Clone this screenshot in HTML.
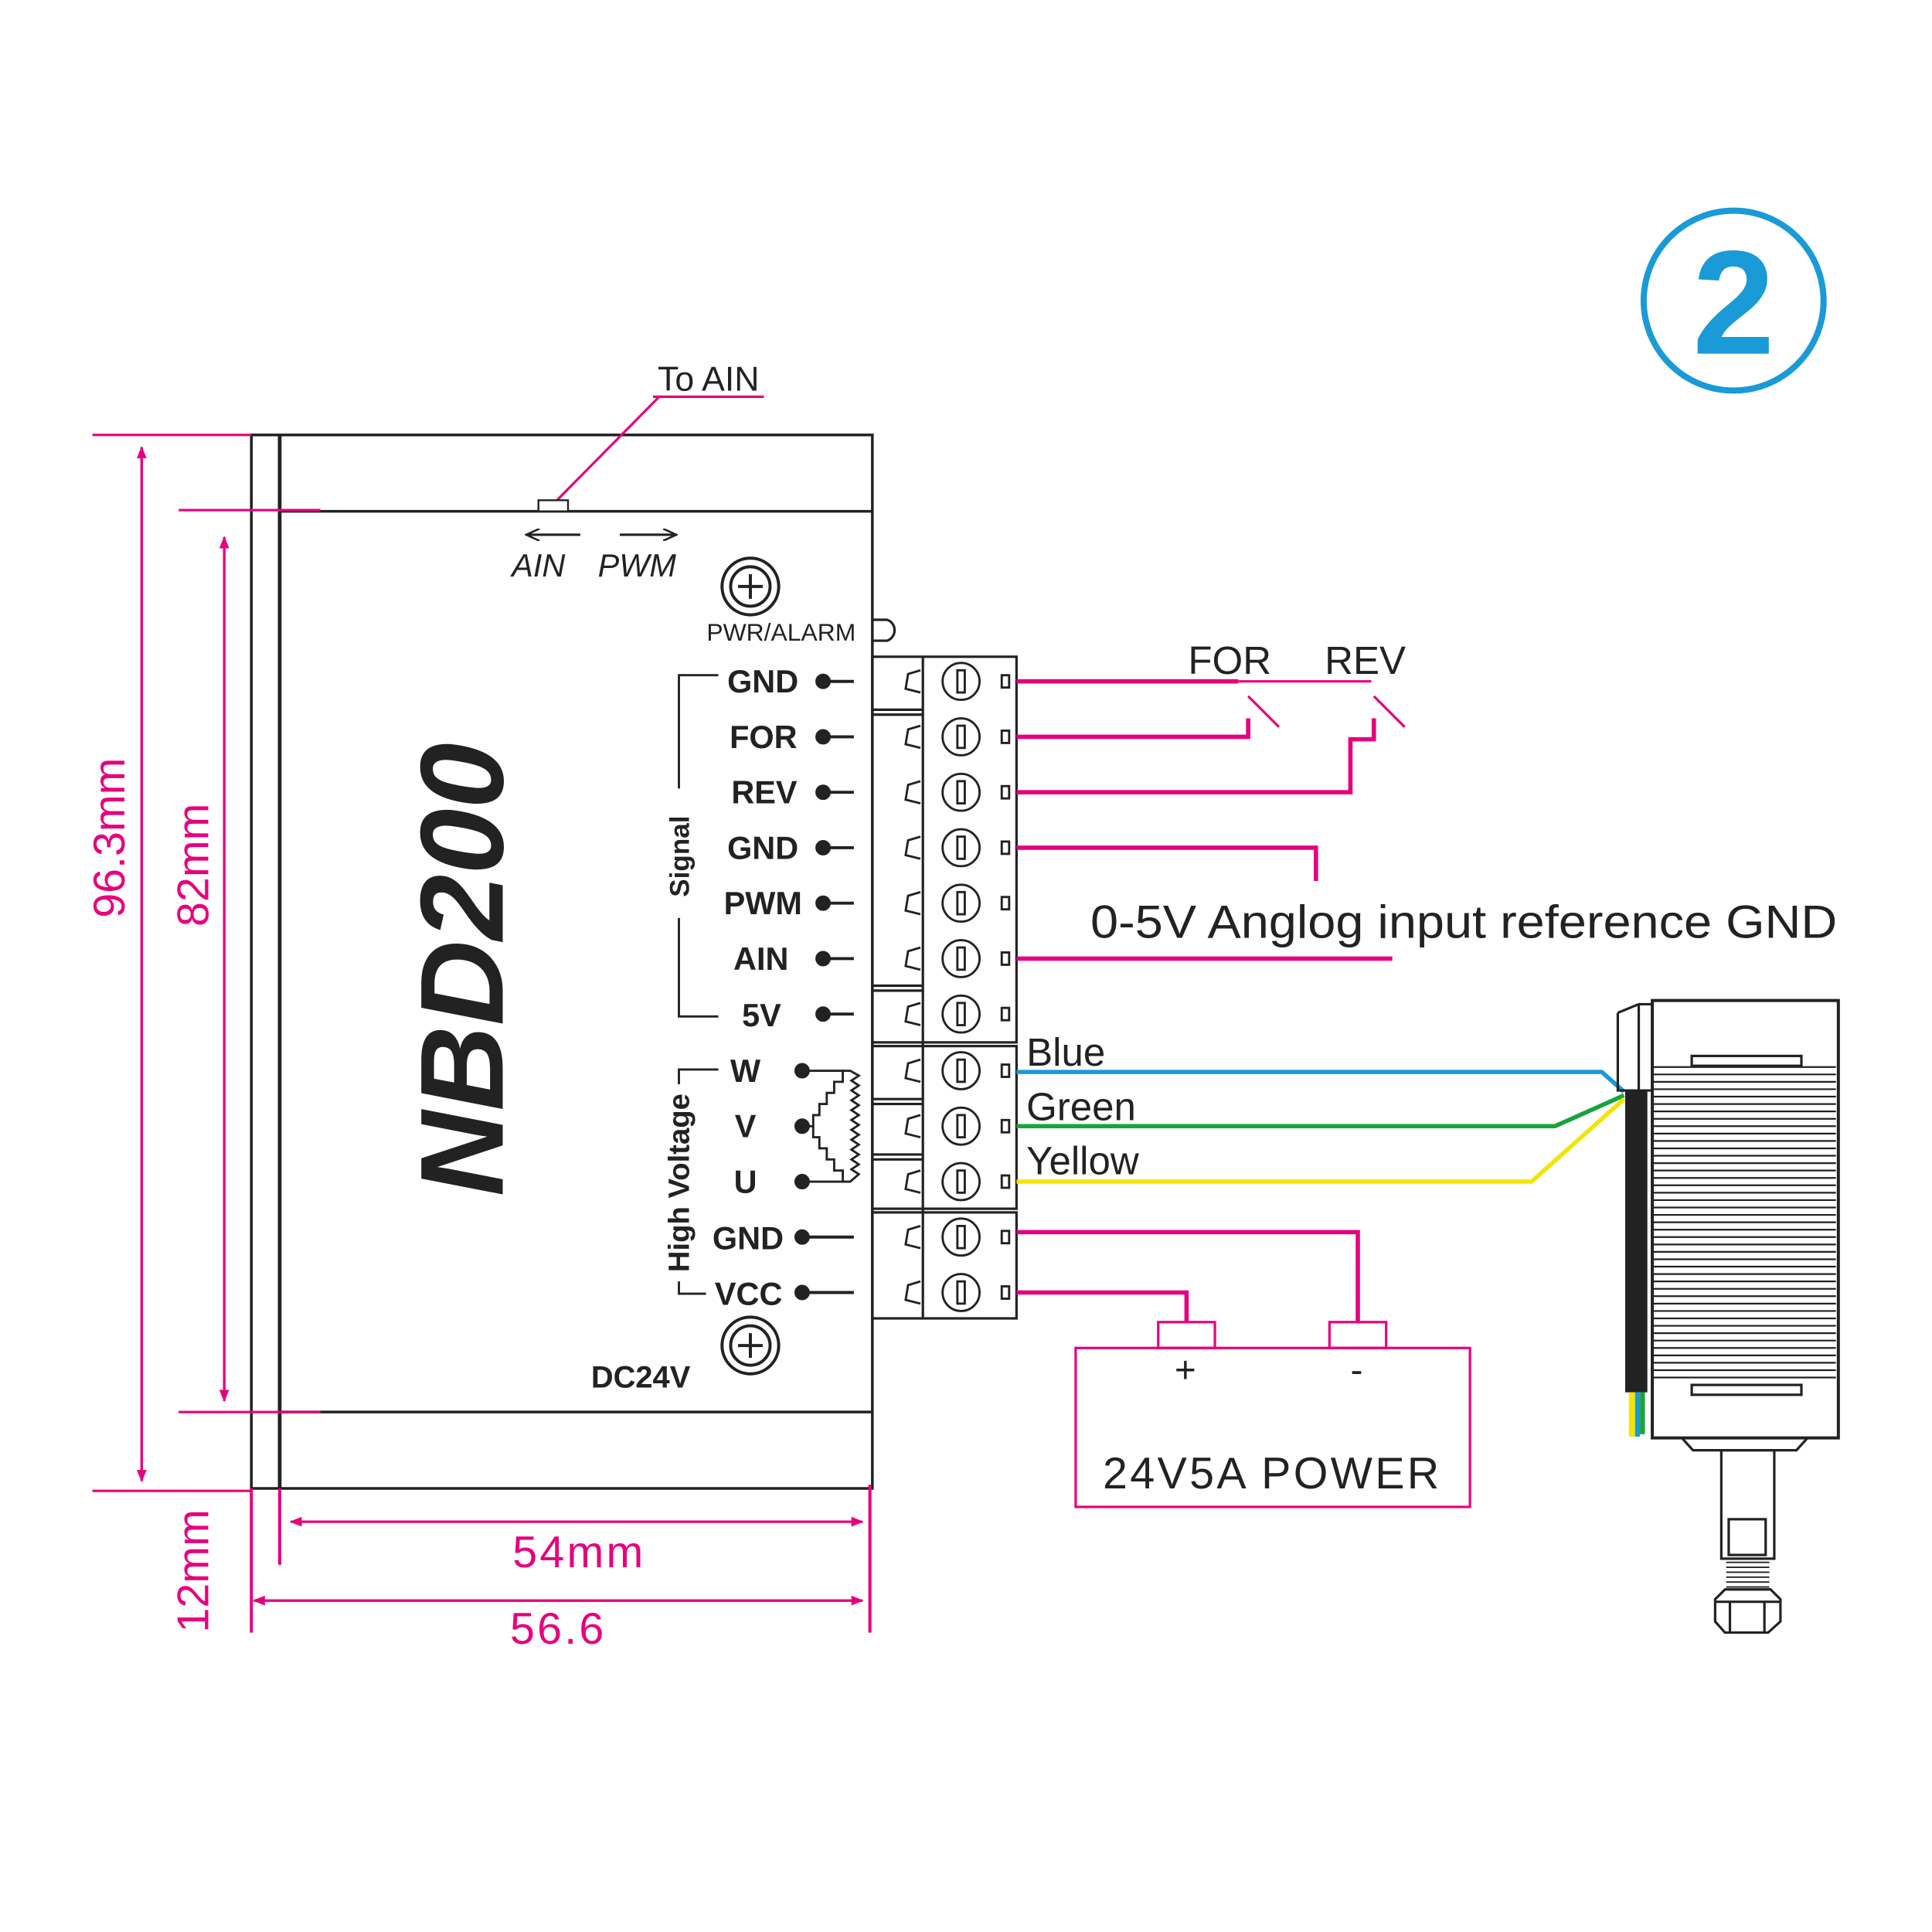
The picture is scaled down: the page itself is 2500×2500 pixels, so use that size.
<!DOCTYPE html>
<html><head><meta charset="utf-8"><style>html,body{margin:0;padding:0;background:#fff}svg{display:block}</style></head>
<body>
<svg width="2500" height="2500" viewBox="0 0 1568 1568" xmlns="http://www.w3.org/2000/svg" font-family="Liberation Sans, Arial, sans-serif">
<rect width="1568" height="1568" fill="#fff"/>
<defs>
<marker id="ah" markerWidth="10" markerHeight="10" refX="9" refY="5" orient="auto" markerUnits="userSpaceOnUse"><path d="M0,1 L10,5 L0,9 Z" fill="#e6007e"/></marker>
<marker id="ak" markerWidth="12" markerHeight="10" refX="11" refY="5" orient="auto" markerUnits="userSpaceOnUse"><path d="M0,0 L11,5 L0,10" fill="none" stroke="#222" stroke-width="1.6"/></marker>
</defs>
<circle cx="1407" cy="244" r="73" fill="none" stroke="#1a9ad6" stroke-width="5"/>
<text x="1407" y="287" text-anchor="middle" font-size="120" font-weight="bold" fill="#1a9ad6">2</text>

<g stroke="#222" fill="none" stroke-width="2.2">
<rect x="204" y="353" width="504" height="855"/>
<line x1="227" y1="353" x2="227" y2="1208" stroke-width="3"/>
<line x1="227" y1="415" x2="708" y2="415"/>
<line x1="227" y1="1146" x2="708" y2="1146"/>
</g>
<g stroke="#e6007e" stroke-width="2" fill="none">
<line x1="75" y1="353" x2="204" y2="353"/>
<line x1="75" y1="1210" x2="204" y2="1210"/>
<line x1="145" y1="414" x2="260" y2="414"/>
<line x1="145" y1="1146" x2="260" y2="1146"/>
<line x1="115" y1="1200" x2="115" y2="363" marker-end="url(#ah)"/>
<line x1="115" y1="363" x2="115" y2="1202" marker-end="url(#ah)"/>
<line x1="182" y1="1135" x2="182" y2="436" marker-end="url(#ah)"/>
<line x1="182" y1="436" x2="182" y2="1137" marker-end="url(#ah)"/>
<line x1="227" y1="1208" x2="227" y2="1270" stroke-width="2.5"/>
<line x1="706" y1="1205" x2="706" y2="1325" stroke-width="2.5"/>
<line x1="204" y1="1208" x2="204" y2="1325" stroke-width="2.5"/>
<line x1="238" y1="1235" x2="700" y2="1235" marker-end="url(#ah)"/>
<line x1="700" y1="1235" x2="236" y2="1235" marker-end="url(#ah)"/>
<line x1="208" y1="1299" x2="700" y2="1299" marker-end="url(#ah)"/>
<line x1="700" y1="1299" x2="206" y2="1299" marker-end="url(#ah)"/>
<line x1="530" y1="322" x2="620" y2="322"/>
<line x1="535" y1="322" x2="452" y2="406"/>
</g>
<g fill="#e6007e" font-size="36">
<text transform="translate(101,680) rotate(-90)" text-anchor="middle">96.3mm</text>
<text transform="translate(169,702) rotate(-90)" text-anchor="middle">82mm</text>
<text transform="translate(169,1275) rotate(-90)" text-anchor="middle">12mm</text>
<text x="470" y="1272" text-anchor="middle" letter-spacing="2">54mm</text>
<text x="453" y="1334" text-anchor="middle" letter-spacing="2">56.6</text>
</g>
<text x="575" y="317" text-anchor="middle" font-size="28" fill="#222">To AIN</text>
<rect x="437" y="406" width="24" height="9" fill="#fff" stroke="#222" stroke-width="1.5"/>
<line x1="471" y1="434" x2="427" y2="434" stroke="#222" stroke-width="2" marker-end="url(#ak)"/>
<line x1="503" y1="434" x2="549" y2="434" stroke="#222" stroke-width="2" marker-end="url(#ak)"/>
<text x="437" y="468" text-anchor="middle" font-size="26" font-style="italic" fill="#222">AIN</text>
<text x="517" y="468" text-anchor="middle" font-size="26" font-style="italic" fill="#222">PWM</text>
<g stroke="#222" fill="none" stroke-width="2.5">
<circle cx="609" cy="476" r="23"/><circle cx="609" cy="476" r="16"/>
<line x1="599" y1="476" x2="619" y2="476"/><line x1="609" y1="466" x2="609" y2="486"/>
<circle cx="609" cy="1092" r="23"/><circle cx="609" cy="1092" r="16"/>
<line x1="599" y1="1092" x2="619" y2="1092"/><line x1="609" y1="1082" x2="609" y2="1102"/>
<path d="M708,503 L720,503 A9,9 0 0 1 720,520 L708,520" stroke-width="2"/>
</g>
<text x="634" y="520" text-anchor="middle" font-size="20" fill="#222">PWR/ALARM</text>
<text x="520" y="1126" text-anchor="middle" font-size="25" font-weight="bold" fill="#222">DC24V</text>
<text transform="translate(408,787) rotate(-90)" text-anchor="middle" font-size="96" font-weight="bold" font-style="italic" fill="#222">NBD200</text>

<g stroke="#222" fill="none" stroke-width="2">
<rect x="708" y="533" width="117" height="313"/>
<rect x="708" y="849" width="117" height="132"/>
<rect x="708" y="984" width="117" height="86"/>
<line x1="749" y1="533" x2="749" y2="1070"/>
<line x1="708" y1="576" x2="749" y2="576"/><line x1="708" y1="580" x2="749" y2="580"/>
<line x1="708" y1="800" x2="749" y2="800"/><line x1="708" y1="804" x2="749" y2="804"/>
<line x1="708" y1="892" x2="749" y2="892"/><line x1="708" y1="896" x2="749" y2="896"/>
<line x1="708" y1="937" x2="749" y2="937"/><line x1="708" y1="941" x2="749" y2="941"/>
</g>
<g stroke="#222" fill="none" stroke-width="1.8">
<g transform="translate(0,553)"><path d="M747,-9 L737,-6 L735,6 L747,9"/><circle cx="780" cy="0" r="15"/><rect x="777" y="-9" width="6" height="18"/><rect x="813" y="-5" width="6" height="10"/></g>
<g transform="translate(0,598)"><path d="M747,-9 L737,-6 L735,6 L747,9"/><circle cx="780" cy="0" r="15"/><rect x="777" y="-9" width="6" height="18"/><rect x="813" y="-5" width="6" height="10"/></g>
<g transform="translate(0,643)"><path d="M747,-9 L737,-6 L735,6 L747,9"/><circle cx="780" cy="0" r="15"/><rect x="777" y="-9" width="6" height="18"/><rect x="813" y="-5" width="6" height="10"/></g>
<g transform="translate(0,688)"><path d="M747,-9 L737,-6 L735,6 L747,9"/><circle cx="780" cy="0" r="15"/><rect x="777" y="-9" width="6" height="18"/><rect x="813" y="-5" width="6" height="10"/></g>
<g transform="translate(0,733)"><path d="M747,-9 L737,-6 L735,6 L747,9"/><circle cx="780" cy="0" r="15"/><rect x="777" y="-9" width="6" height="18"/><rect x="813" y="-5" width="6" height="10"/></g>
<g transform="translate(0,778)"><path d="M747,-9 L737,-6 L735,6 L747,9"/><circle cx="780" cy="0" r="15"/><rect x="777" y="-9" width="6" height="18"/><rect x="813" y="-5" width="6" height="10"/></g>
<g transform="translate(0,823)"><path d="M747,-9 L737,-6 L735,6 L747,9"/><circle cx="780" cy="0" r="15"/><rect x="777" y="-9" width="6" height="18"/><rect x="813" y="-5" width="6" height="10"/></g>
<g transform="translate(0,869)"><path d="M747,-9 L737,-6 L735,6 L747,9"/><circle cx="780" cy="0" r="15"/><rect x="777" y="-9" width="6" height="18"/><rect x="813" y="-5" width="6" height="10"/></g>
<g transform="translate(0,914)"><path d="M747,-9 L737,-6 L735,6 L747,9"/><circle cx="780" cy="0" r="15"/><rect x="777" y="-9" width="6" height="18"/><rect x="813" y="-5" width="6" height="10"/></g>
<g transform="translate(0,959)"><path d="M747,-9 L737,-6 L735,6 L747,9"/><circle cx="780" cy="0" r="15"/><rect x="777" y="-9" width="6" height="18"/><rect x="813" y="-5" width="6" height="10"/></g>
<g transform="translate(0,1004)"><path d="M747,-9 L737,-6 L735,6 L747,9"/><circle cx="780" cy="0" r="15"/><rect x="777" y="-9" width="6" height="18"/><rect x="813" y="-5" width="6" height="10"/></g>
<g transform="translate(0,1049)"><path d="M747,-9 L737,-6 L735,6 L747,9"/><circle cx="780" cy="0" r="15"/><rect x="777" y="-9" width="6" height="18"/><rect x="813" y="-5" width="6" height="10"/></g>
</g>

<g font-size="26" font-weight="bold" fill="#222" text-anchor="end">
<text x="648" y="562">GND</text><text x="647" y="607">FOR</text><text x="647" y="652">REV</text>
<text x="648" y="697">GND</text><text x="651" y="742">PWM</text><text x="640" y="787">AIN</text><text x="634" y="833">5V</text>
<text x="636" y="1014">GND</text><text x="635" y="1059">VCC</text>
</g>
<g font-size="26" font-weight="bold" fill="#222" text-anchor="middle">
<text x="605" y="878">W</text><text x="605" y="923">V</text><text x="605" y="968">U</text>
</g>
<g fill="#222" stroke="#222" stroke-width="2.5">
<circle cx="668" cy="553" r="5"/><line x1="668" y1="553" x2="693" y2="553"/>
<circle cx="668" cy="598" r="5"/><line x1="668" y1="598" x2="693" y2="598"/>
<circle cx="668" cy="643" r="5"/><line x1="668" y1="643" x2="693" y2="643"/>
<circle cx="668" cy="688" r="5"/><line x1="668" y1="688" x2="693" y2="688"/>
<circle cx="668" cy="733" r="5"/><line x1="668" y1="733" x2="693" y2="733"/>
<circle cx="668" cy="778" r="5"/><line x1="668" y1="778" x2="693" y2="778"/>
<circle cx="668" cy="823" r="5"/><line x1="668" y1="823" x2="693" y2="823"/>
<circle cx="651" cy="1004" r="5"/><line x1="651" y1="1004" x2="693" y2="1004"/>
<circle cx="651" cy="1049" r="5"/><line x1="651" y1="1049" x2="693" y2="1049"/>
<circle cx="651" cy="869" r="5"/><circle cx="651" cy="914" r="5"/><circle cx="651" cy="959" r="5"/>
</g>
<g stroke="#222" fill="none" stroke-width="1.8">
<path d="M651,869 L684,869 L684,878 L677,878 L677,887 L671,887 L671,896 L665,896 L665,905 L660,905 L660,914 L651,914"/>
<path d="M660,914 L660,923 L665,923 L665,932 L671,932 L671,941 L677,941 L677,950 L684,950 L684,959 L651,959"/>
<path d="M684,869 L690,869 L697,873 L691,877 L697,881 L691,885 L697,889 L691,893 L697,897 L691,901 L697,905 L691,909 L697,913 L691,917 L697,921 L691,925 L697,929 L691,933 L697,937 L691,941 L697,945 L691,949 L697,953 L690,959 L684,959"/>
<path d="M583,548 L551,548 L551,640"/><path d="M551,745 L551,825 L583,825"/>
<path d="M583,868 L551,868 L551,880"/><path d="M551,1040 L551,1050 L573,1050"/>
</g>
<text transform="translate(559,695) rotate(-90)" text-anchor="middle" font-size="22" font-weight="bold" fill="#222">Signal</text>
<text transform="translate(559,960) rotate(-90)" text-anchor="middle" font-size="24" font-weight="bold" fill="#222">High Voltage</text>

<g stroke="#e6007e" stroke-width="3.5" fill="none">
<path d="M825,553 L1005,553"/>
<path d="M825,598 L1013,598 L1013,583"/>
<path d="M825,643 L1096,643 L1096,600 L1115,600 L1115,583"/>
<path d="M825,688 L1068,688 L1068,715"/>
<path d="M825,778 L1130,778"/>
<path d="M825,1000 L1102,1000 L1102,1073"/>
<path d="M825,1049 L963,1049 L963,1073"/>
</g>
<g stroke="#e6007e" stroke-width="2" fill="none">
<line x1="1005" y1="553" x2="1113" y2="553"/>
<line x1="1013" y1="565" x2="1038" y2="590"/>
<line x1="1115" y1="565" x2="1140" y2="590"/>
<rect x="873" y="1094" width="320" height="129"/>
<rect x="940" y="1073" width="46" height="21"/>
<rect x="1079" y="1073" width="46" height="21"/>
</g>
<g fill="#222">
<text x="998" y="547" text-anchor="middle" font-size="32">FOR</text>
<text x="1108" y="547" text-anchor="middle" font-size="32">REV</text>
<text x="885" y="761" font-size="38" textLength="606" lengthAdjust="spacingAndGlyphs">0-5V Anglog input reference GND</text>
<text x="833" y="865" font-size="32">Blue</text>
<text x="833" y="909" font-size="32">Green</text>
<text x="833" y="953" font-size="32">Yellow</text>
<text x="962" y="1122" text-anchor="middle" font-size="30">+</text>
<text x="1101" y="1122" text-anchor="middle" font-size="30">-</text>
<text x="895" y="1208" font-size="36" textLength="273" lengthAdjust="spacing">24V5A  POWER</text>
</g>
<g fill="none" stroke-width="3.5">
<path d="M825,870 L1300,870 L1318,886" stroke="#1a9ad6"/>
<path d="M825,914 L1262,914 L1318,889" stroke="#1aa33c"/>
<path d="M825,959 L1243,959 L1318,892" stroke="#f2e600"/>
</g>
<g stroke="#222" fill="none" stroke-width="2">
<rect x="1341" y="812" width="151" height="355" stroke-width="2.5"/>
<path d="M1313,822 L1330,815 L1341,815 M1313,822 L1313,885 L1341,885 M1330,815 L1330,885"/>
<rect x="1373" y="857" width="89" height="8"/>
<rect x="1373" y="1124" width="89" height="8"/>
<path d="M1365,1167 L1374,1177 L1458,1177 L1467,1167"/>
<rect x="1397" y="1177" width="43" height="88"/>
<rect x="1403" y="1233" width="30" height="29"/>
<path d="M1392,1298 L1400,1290 L1437,1290 L1445,1298 L1445,1316 L1435,1325 L1400,1325 L1392,1316 Z"/>
<path d="M1392,1300 L1445,1300 M1404,1300 L1404,1325 M1432,1300 L1432,1325"/>
</g>
<g stroke="#222" stroke-width="1.2">
<line x1="1401" y1="1268" x2="1436" y2="1268"/><line x1="1401" y1="1272" x2="1436" y2="1272"/>
<line x1="1401" y1="1276" x2="1436" y2="1276"/><line x1="1401" y1="1280" x2="1436" y2="1280"/>
<line x1="1401" y1="1284" x2="1436" y2="1284"/><line x1="1401" y1="1288" x2="1436" y2="1288"/>
</g>
<g stroke="#222" stroke-width="1.4">
<line x1="1341" y1="866" x2="1490" y2="866"/><line x1="1341" y1="872" x2="1490" y2="872"/><line x1="1341" y1="878" x2="1490" y2="878"/><line x1="1341" y1="884" x2="1490" y2="884"/><line x1="1341" y1="890" x2="1490" y2="890"/><line x1="1341" y1="896" x2="1490" y2="896"/><line x1="1341" y1="902" x2="1490" y2="902"/><line x1="1341" y1="908" x2="1490" y2="908"/><line x1="1341" y1="914" x2="1490" y2="914"/><line x1="1341" y1="920" x2="1490" y2="920"/><line x1="1341" y1="926" x2="1490" y2="926"/><line x1="1341" y1="932" x2="1490" y2="932"/><line x1="1341" y1="938" x2="1490" y2="938"/><line x1="1341" y1="944" x2="1490" y2="944"/><line x1="1341" y1="950" x2="1490" y2="950"/><line x1="1341" y1="956" x2="1490" y2="956"/><line x1="1341" y1="962" x2="1490" y2="962"/><line x1="1341" y1="968" x2="1490" y2="968"/><line x1="1341" y1="974" x2="1490" y2="974"/><line x1="1341" y1="980" x2="1490" y2="980"/><line x1="1341" y1="986" x2="1490" y2="986"/><line x1="1341" y1="992" x2="1490" y2="992"/><line x1="1341" y1="998" x2="1490" y2="998"/><line x1="1341" y1="1004" x2="1490" y2="1004"/><line x1="1341" y1="1010" x2="1490" y2="1010"/><line x1="1341" y1="1016" x2="1490" y2="1016"/><line x1="1341" y1="1022" x2="1490" y2="1022"/><line x1="1341" y1="1028" x2="1490" y2="1028"/><line x1="1341" y1="1034" x2="1490" y2="1034"/><line x1="1341" y1="1040" x2="1490" y2="1040"/><line x1="1341" y1="1046" x2="1490" y2="1046"/><line x1="1341" y1="1052" x2="1490" y2="1052"/><line x1="1341" y1="1058" x2="1490" y2="1058"/><line x1="1341" y1="1064" x2="1490" y2="1064"/><line x1="1341" y1="1070" x2="1490" y2="1070"/><line x1="1341" y1="1076" x2="1490" y2="1076"/><line x1="1341" y1="1082" x2="1490" y2="1082"/><line x1="1341" y1="1088" x2="1490" y2="1088"/><line x1="1341" y1="1094" x2="1490" y2="1094"/><line x1="1341" y1="1100" x2="1490" y2="1100"/><line x1="1341" y1="1106" x2="1490" y2="1106"/><line x1="1341" y1="1112" x2="1490" y2="1112"/><line x1="1341" y1="1118" x2="1490" y2="1118"/>
</g>
<rect x="1319" y="885" width="18" height="245" fill="#222"/>
<rect x="1322" y="1130" width="5" height="36" fill="#f2e600"/>
<rect x="1327" y="1130" width="4" height="36" fill="#1a9ad6"/>
<rect x="1331" y="1130" width="4" height="34" fill="#1aa33c"/>
</svg>
</body></html>
